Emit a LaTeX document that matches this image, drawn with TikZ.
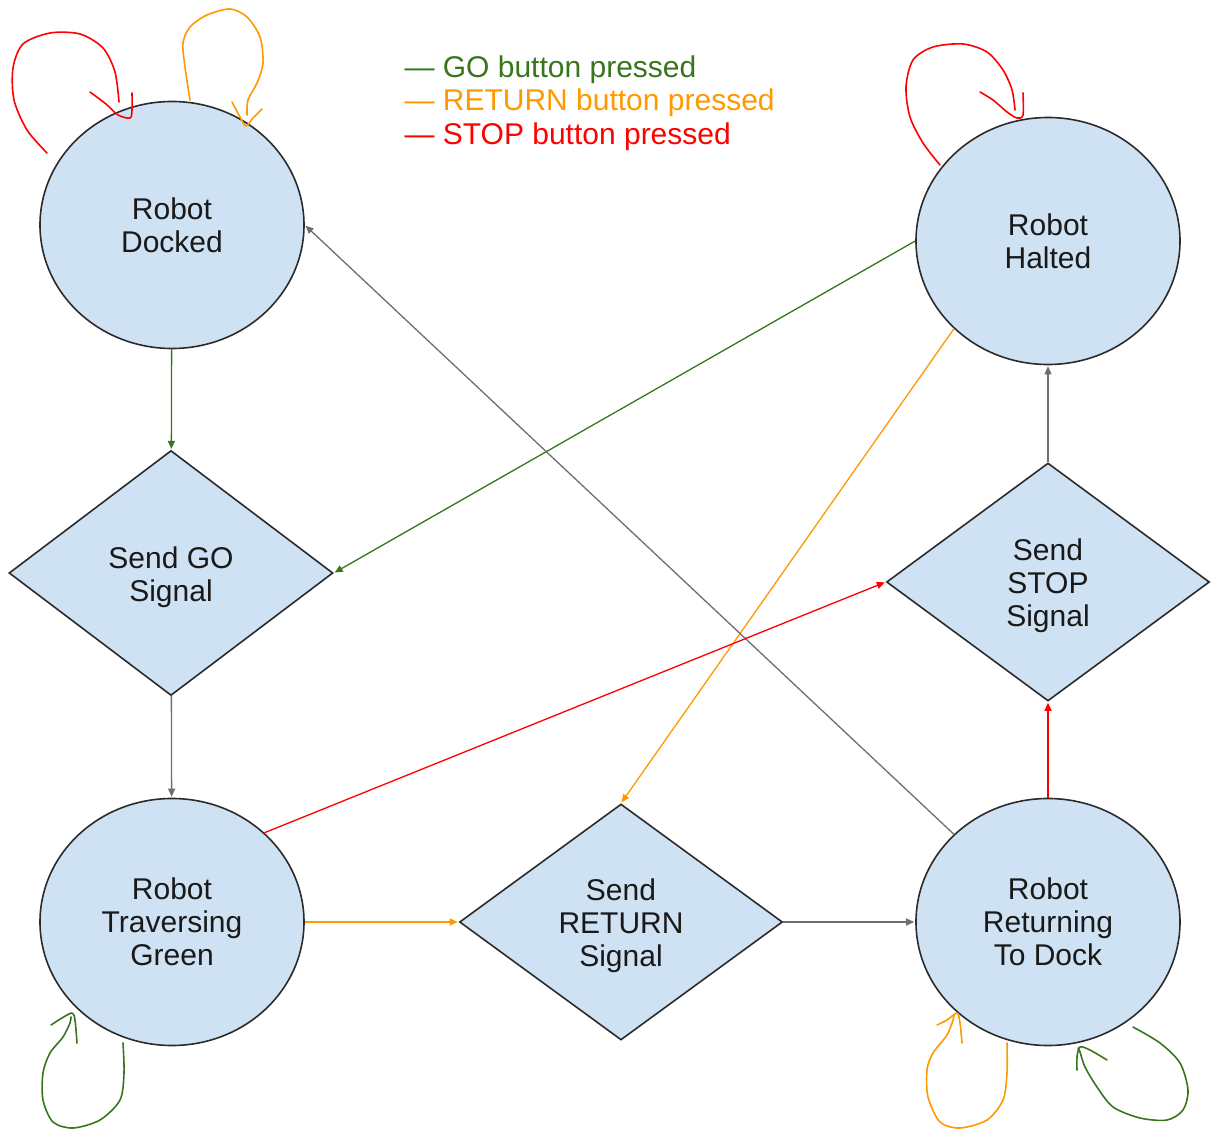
\documentclass[tikz,border=0pt]{standalone}
\usepackage{fontspec}
\setmainfont{Liberation Sans}
\usetikzlibrary{shapes.geometric,arrows.meta}
\definecolor{fillblue}{HTML}{CFE2F3}
\definecolor{gobtn}{HTML}{38761D}
\definecolor{retbtn}{HTML}{FF9900}
\definecolor{stopbtn}{HTML}{FF0000}
\definecolor{plain}{HTML}{6E6E6E}
\definecolor{edge}{HTML}{2B2B2B}
\begin{document}
\begin{tikzpicture}[x=1pt, y=-1pt,
  every node/.style={font=\fontsize{30}{33}\selectfont, text=black!90},
  state/.style={ellipse, draw=edge, line width=1.6pt, fill=fillblue, inner sep=0pt,
    minimum width=264pt, minimum height=247pt, align=center},
  signal/.style={diamond, draw=edge, line width=1.6pt, fill=fillblue, inner sep=0pt,
    minimum width=323pt, minimum height=238pt},
  caption/.style={label={[align=center, yshift=-4pt]center:#1}},
  link/.style={line width=1.3pt, -{Triangle[length=8pt,width=7pt]}, shorten >=1pt},
  loop/.style={line width=1.6pt, line cap=round, line join=round}]
\useasboundingbox (0,0) rectangle (1213,1131);
\node[state] (S_0_0) at (172,225) {Robot\\Docked};
\node[state] (S_0_2) at (1048,241) {Robot\\Halted};
\node[signal, minimum width=324pt, minimum height=245pt, caption={Send GO\\Signal}] (S_1_0) at (171,573) {};
\node[signal, caption={Send\\STOP\\Signal}] (S_1_2) at (1048,582) {};
\node[state] (S_2_0) at (172,922) {Robot\\Traversing\\Green};
\node[signal, minimum height=236pt, caption={Send\\RETURN\\Signal}] (S_2_1) at (621,922) {};
\node[state] (S_2_2) at (1048,922) {Robot\\Returning\\To Dock};
\node[anchor=west, text=gobtn] (L_0) at (401,70) {— GO button pressed};
\node[anchor=west, text=retbtn] (L_1) at (401,103) {— RETURN button pressed};
\node[anchor=west, text=stopbtn] (L_2) at (401,137) {— STOP button pressed};
\draw[link, gobtn] (S_0_0) -- (S_1_0);
\draw[link, plain] (S_1_0) -- (S_2_0);
\draw[link, gobtn] (S_0_2.west) -- (S_1_0.east);
\draw[link, retbtn] (S_0_2.223) -- (S_2_1.north);
\draw[link, plain] (S_2_2.137) -- (S_0_0.east);
\draw[link, stopbtn] (S_2_0.44) -- (S_1_2.west);
\draw[link, retbtn] (S_2_0) -- (S_2_1);
\draw[link, plain] (S_2_1) -- (S_2_2);
\draw[link, stopbtn] (S_2_2) -- (S_1_2);
\draw[link, plain] (S_1_2) -- (S_0_2);
\draw[loop, stopbtn] plot[smooth] coordinates {(47,153) (27,130) (14,100) (13,68) (23,44) (50,33) (80,34) (103,48) (115,72) (119,102)};
\draw[loop, stopbtn] plot[smooth] coordinates {(90,92) (106,104) (118,115) (130,118) (132,110) (132,93)};
\draw[loop, retbtn] plot[smooth] coordinates {(190,100) (185,67) (183,43) (190,27) (207,15) (230,9) (247,17) (260,37) (263,63) (257,83) (248,100) (247,115)};
\draw[loop, retbtn] plot[smooth] coordinates {(232,102) (240,117) (246,126) (253,118) (262,109)};
\draw[loop, stopbtn] plot[smooth] coordinates {(940,165) (923,143) (910,117) (906,87) (913,60) (933,47) (963,44) (987,52) (1003,70) (1012,90) (1015,110)};
\draw[loop, stopbtn] plot[smooth] coordinates {(980,92) (993,100) (1007,112) (1017,118) (1023,115) (1023,93)};
\draw[loop, gobtn] plot[smooth] coordinates {(123,1043) (124,1073) (120,1100) (100,1120) (73,1128) (53,1122) (43,1100) (43,1073) (50,1053) (63,1037) (70,1023) (71,1017)};
\draw[loop, gobtn] plot[smooth] coordinates {(51,1025) (62,1018) (72,1013) (75,1020) (77,1043)};
\draw[loop, retbtn] plot[smooth] coordinates {(1007,1043) (1007,1073) (1003,1100) (987,1120) (960,1128) (940,1122) (928,1097) (927,1070) (933,1053) (947,1035) (953,1020) (954,1015)};
\draw[loop, retbtn] plot[smooth] coordinates {(937,1025) (947,1020) (957,1013) (960,1023) (962,1043)};
\draw[loop, gobtn] plot[smooth] coordinates {(1133,1027) (1160,1043) (1180,1063) (1188,1090) (1183,1110) (1167,1120) (1140,1118) (1113,1107) (1097,1087) (1085,1067) (1080,1052) (1078,1048)};
\draw[loop, gobtn] plot[smooth] coordinates {(1107,1060) (1090,1050) (1080,1047) (1077,1057) (1077,1070)};
\end{tikzpicture}
\end{document}
